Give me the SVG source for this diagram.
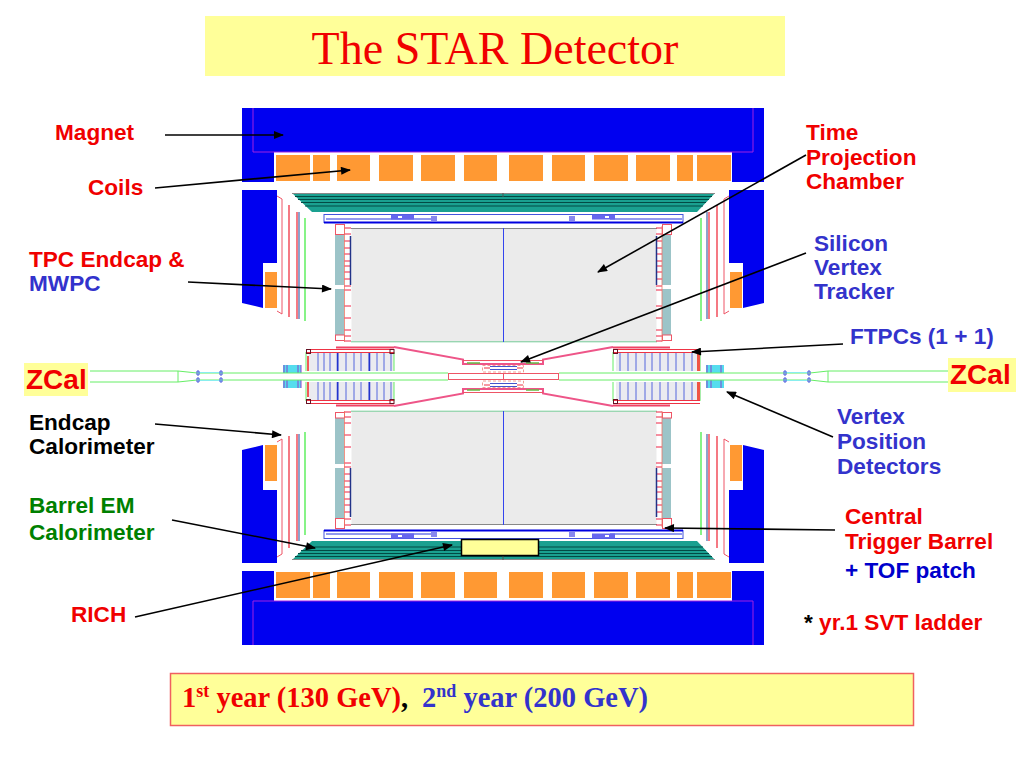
<svg xmlns="http://www.w3.org/2000/svg" xmlns:xlink="http://www.w3.org/1999/xlink" width="1024" height="768" viewBox="0 0 1024 768">
<style>
.l{font-family:"Liberation Sans",Arial,sans-serif;font-weight:bold;font-size:22.600px}
.s{font-family:"Liberation Serif","Times New Roman",serif}
.r{fill:#f00000}.b{fill:#3333cc}.k{fill:#000}.g{fill:#008000}
.c{fill:#ff9933}.m{fill:#0000f0}
.pk{fill:none;stroke:#ee5566;stroke-width:1}
.gr{fill:none;stroke:#66ee66;stroke-width:1}
.a{stroke:#000;stroke-width:1.6;fill:none;marker-end:url(#ah)}
</style>
<defs>
<marker id="ah" viewBox="0 0 10 8" refX="9" refY="4" markerWidth="11" markerHeight="8" markerUnits="userSpaceOnUse" orient="auto"><path d="M0 0L10 4L0 8Z" fill="#000"/></marker>
<g id="half">
  <path class="m" d="M242 108H764V182H732V152H274V182H242Z"/>
  <path d="M253 108V152H753V108" fill="none" stroke="#a020e0" stroke-width="1"/>
  <g class="c">
    <rect x="276" y="155" width="34" height="26"/><rect x="313" y="155" width="17" height="26"/><rect x="337" y="155" width="33" height="26"/><rect x="379" y="155" width="34" height="26"/><rect x="421" y="155" width="34" height="26"/><rect x="464" y="155" width="33" height="26"/><rect x="509" y="155" width="34" height="26"/><rect x="552" y="155" width="33" height="26"/><rect x="594" y="155" width="34" height="26"/><rect x="636" y="155" width="34" height="26"/><rect x="677" y="155" width="16" height="26"/><rect x="697" y="155" width="34" height="26"/>
  </g>
  <path class="m" d="M242 190H277V263H263V308L242 303Z"/>
  <rect class="c" x="265" y="272" width="12" height="36"/>
  <path class="m" d="M764 190H729V263H743V308L764 303Z"/>
  <rect class="c" x="730" y="272" width="12" height="36"/>
  <path class="pk" d="M277 196L282 199V314L277 311"/>
  <path class="pk" d="M729 196L724 199V314L729 311"/>
  <path d="M289 205V317M297 212V319M717 205V317" stroke="#ee2233" stroke-width="1.200" fill="none"/>
  <path d="M299 212V319M707 212V319" stroke="#4466aa" stroke-width="1.200" fill="none"/>
  <path d="M709 212V319" stroke="#ee2233" stroke-width="1.200" fill="none"/>
  <path d="M305 218V321M701 218V321" stroke="#55ee55" stroke-width="1.400" fill="none"/>
  <path d="M292 193H715L697 212H312Z" fill="#1aa090"/>
  <path d="M292 193.500H715" stroke="#888" stroke-width="1.200"/>
  <path d="M295 196.500H712M298 199.500H709M301 202.500H706M305 206H703" stroke="#024a44" stroke-width="1.200"/>
  <path d="M503 193V197" stroke="#555" stroke-width="1"/>
  <rect x="324" y="214.500" width="359" height="8" fill="#fff" stroke="#4455dd" stroke-width="1"/>
  <path d="M324 222.500H683" stroke="#0000e0" stroke-width="2"/>
  <path d="M326 219H431M610 219H682" stroke="#2233dd" stroke-width="1"/>
  <rect x="391" y="214.500" width="23" height="5" fill="#6666ee"/><rect x="398" y="216" width="4" height="2" fill="#fff"/>
  <rect x="431" y="216" width="6" height="5" fill="#8888ee"/>
  <rect x="592" y="214.500" width="23" height="5" fill="#6666ee"/><rect x="605" y="216" width="4" height="2" fill="#fff"/>
  <rect x="569" y="216" width="6" height="5" fill="#8888ee"/>
  <rect x="351.500" y="228.500" width="305" height="113.500" fill="#ebebeb"/>
  <path d="M351 228.500H657" stroke="#888" stroke-width="1"/>
  <path d="M351 341.800H657" stroke="#77cc99" stroke-width="1"/>
  <path d="M503.500 228V342" stroke="#3344ee" stroke-width="1"/>
  <rect x="335.500" y="224.500" width="9" height="10" fill="#fff" stroke="#ee5566"/>
  <rect x="335" y="235" width="9" height="50" fill="#9cc4c8"/><rect x="335" y="289" width="9" height="46" fill="#9cc4c8"/>
  <rect x="335.500" y="335" width="9" height="5.500" fill="#fff" stroke="#ee5566"/>
  <rect x="662.500" y="224.500" width="9" height="10" fill="#fff" stroke="#ee5566"/>
  <rect x="662" y="235" width="9" height="50" fill="#9cc4c8"/><rect x="662" y="289" width="9" height="46" fill="#9cc4c8"/>
  <rect x="662.500" y="335" width="9" height="5.500" fill="#fff" stroke="#ee5566"/>
  <path d="M344 228H351M344 234H351M344 241H351M344 248H351M344 254H351M344 261H351M344 266H351M344 272H351M344 279H351M344 286H351M344 290H351M344 306H351M344 318H351M344 330H351M344 336H351M344 341H351" stroke="#ee2244" stroke-width="1"/>
  <path d="M656 228H662M656 234H662M656 241H662M656 248H662M656 254H662M656 261H662M656 266H662M656 272H662M656 279H662M656 286H662M656 290H662M656 306H662M656 318H662M656 330H662M656 336H662M656 341H662" stroke="#ee2244" stroke-width="1"/>
  <path d="M350.500 236V285M656.500 236V285" stroke="#223388" stroke-width="1.500"/>
  <path d="M344.500 226V342M662 226V342" stroke="#ee7766" stroke-width=".8"/>
  <rect x="309" y="353" width="85" height="18" fill="#ebebf0"/>
  <path d="M318 353V371M324 353V371M330 353V371M338 353V371M346 353V371M354 353V371M361 353V371M369 353V371M377 353V371M384 353V371M391 353V371" stroke="#5566dd" stroke-width="1"/>
  <path d="M337.500 353V371M369.500 353V371" stroke="#2233cc" stroke-width="1.500"/>
  <rect x="616" y="353" width="85" height="18" fill="#ebebf0"/>
  <path d="M620 353V371M628 353V371M636 353V371M645 353V371M652 353V371M660 353V371M668 353V371M676 353V371M684 353V371M692 353V371" stroke="#5566dd" stroke-width="1"/>
  <path d="M306 371V352M394 371V352M613 371V352M700 371V352" stroke="#66ee66" stroke-width="1"/>
  <path d="M308 356V371" stroke="#ee2222" stroke-width="1.500"/>
  <path d="M698.500 353V371" stroke="#ee5544" stroke-width="3"/>
  <path d="M306 349.500H394M306 352.500H394M613 349.500H700M613 352.500H700" stroke="#ee3344" stroke-width="1"/>
  <path d="M336 347.500H394M613 347.500H670" stroke="#ee4466" stroke-width="2"/>
  <rect x="306.500" y="349.500" width="4" height="4" fill="none" stroke="#661122"/>
  <rect x="390" y="349.500" width="4" height="4" fill="none" stroke="#661122"/>
  <rect x="613.500" y="349.500" width="4" height="4" fill="none" stroke="#661122"/>
  <path d="M394 347L463 359.500V364H543V359.500L613 347" fill="none" stroke="#ee5588" stroke-width="2"/>
  <path d="M463 360.500H543" stroke="#ee5566" stroke-width="1"/>
  <path d="M467 363H480M526 363H539" stroke="#66bb44" stroke-width="1.500"/>
  <rect x="482.500" y="365.500" width="41" height="6.500" fill="none" stroke="#ee8877" stroke-width=".8" stroke-dasharray="3 2"/>
  <path d="M490 366.500H517M490 369.500H517" stroke="#4455cc" stroke-width="1.200"/>
  <path d="M484 368H490M517 368H523" stroke="#ee3344" stroke-width="1"/>
  <rect x="283" y="365" width="18" height="8" fill="#55ddee"/>
  <path d="M284 365V373M287 365V373M298 365V373M301 365V373" stroke="#8844cc" stroke-width="1"/>
  <rect x="706" y="365" width="18" height="8" fill="#55ddee"/>
  <path d="M707 365V373M711 365V373M721 365V373" stroke="#8844cc" stroke-width="1"/>
  <path d="M90 371H178L197 373H448M559 373H810L828 371H948" class="gr"/>
  <path d="M198 372.500H222M784 372.500H808" stroke="#88eeee" stroke-width="1"/>
  <path d="M197 371H199V375H197ZM220 371H222V375H220ZM784 371H786V375H784ZM808 371H810V375H808Z" fill="none" stroke="#4455dd" stroke-width="1"/>
</g>
</defs>
<rect width="1024" height="768" fill="#fff"/>
<g id="title"><rect x="205" y="16" width="580" height="60" fill="#ffff99"/><text x="495" y="64" text-anchor="middle" class="s" font-size="46" fill="#f00000">The STAR Detector</text></g>
<g id="detector">
  <use xlink:href="#half" href="#half"/>
  <use xlink:href="#half" href="#half" transform="matrix(1 0 0 -1 0 753)"/>
  <rect x="448.500" y="373.500" width="110" height="6" fill="#fff" stroke="#ee5566" stroke-width="1"/>
  <path d="M503.500 373V380" stroke="#ee5566"/>
  <path d="M178 371V382M828 371V382" class="gr"/>
  <rect x="461.500" y="539.500" width="77" height="16" fill="#ffff99" stroke="#000" stroke-width="1.500"/>
</g>
<g id="connectors">
  <path class="a" d="M165 135H283"/>
  <path class="a" d="M155 188L350 170"/>
  <path class="a" d="M188 282L331 289"/>
  <path class="a" d="M806 155L598 272"/>
  <path class="a" d="M806 253L521 362"/>
  <path class="a" d="M843 344L692 352"/>
  <path class="a" d="M833 437L727 392"/>
  <path class="a" d="M155 424L281 435"/>
  <path class="a" d="M172 520L315 548"/>
  <path class="a" d="M135 617L452 545"/>
  <path class="a" d="M835 530L665 528"/>
</g>
<g id="labels" class="l">
  <text x="55" y="140" class="l r">Magnet</text>
  <text x="88" y="195" class="l r">Coils</text>
  <text x="29" y="267" class="l r">TPC Endcap &amp;</text>
  <text x="29" y="291" class="l b">MWPC</text>
  <g id="zcal-left"><rect x="24" y="363" width="64" height="33" fill="#ffff99"/><text x="26" y="389" class="l r" style="font-size:28px">ZCal</text></g>
  <g id="zcal-right"><rect x="948" y="358" width="68" height="34" fill="#ffff99"/><text x="950" y="384" class="l r" style="font-size:28px">ZCal</text></g>
  <text x="29" y="430" class="l k">Endcap</text>
  <text x="29" y="454" class="l k">Calorimeter</text>
  <text x="29" y="513" class="l g">Barrel EM</text>
  <text x="29" y="540" class="l g">Calorimeter</text>
  <text x="71" y="622" class="l r">RICH</text>
  <text x="806" y="140" class="l r">Time</text>
  <text x="806" y="165" class="l r">Projection</text>
  <text x="806" y="189" class="l r">Chamber</text>
  <text x="814" y="251" class="l b">Silicon</text>
  <text x="814" y="275" class="l b">Vertex</text>
  <text x="814" y="299" class="l b">Tracker</text>
  <text x="850" y="344" class="l b">FTPCs (1 + 1)</text>
  <text x="837" y="424" class="l b">Vertex</text>
  <text x="837" y="449" class="l b">Position</text>
  <text x="837" y="474" class="l b">Detectors</text>
  <text x="845" y="524" class="l r">Central</text>
  <text x="845" y="549" class="l r">Trigger Barrel</text>
  <text x="845" y="578" class="l" fill="#0000cc">+ TOF patch</text>
  <text x="804" y="630" class="l"><tspan class="k">*</tspan><tspan class="r"> yr.1 SVT ladder</tspan></text>
</g>
<g id="years">
  <rect x="170.500" y="673.500" width="743" height="52" fill="#ffff99" stroke="#f06060" stroke-width="1.500"/>
  <text x="182" y="707" class="s" font-size="28.500" font-weight="bold" fill="#f00000">1<tspan font-size="18" dy="-10">st</tspan><tspan dy="10"> year (130 GeV)</tspan><tspan fill="#000">,</tspan></text>
  <text x="422" y="707" class="s" font-size="28.500" font-weight="bold" fill="#3333cc">2<tspan font-size="18" dy="-10">nd</tspan><tspan dy="10"> year (200 GeV)</tspan></text>
</g>
</svg>
